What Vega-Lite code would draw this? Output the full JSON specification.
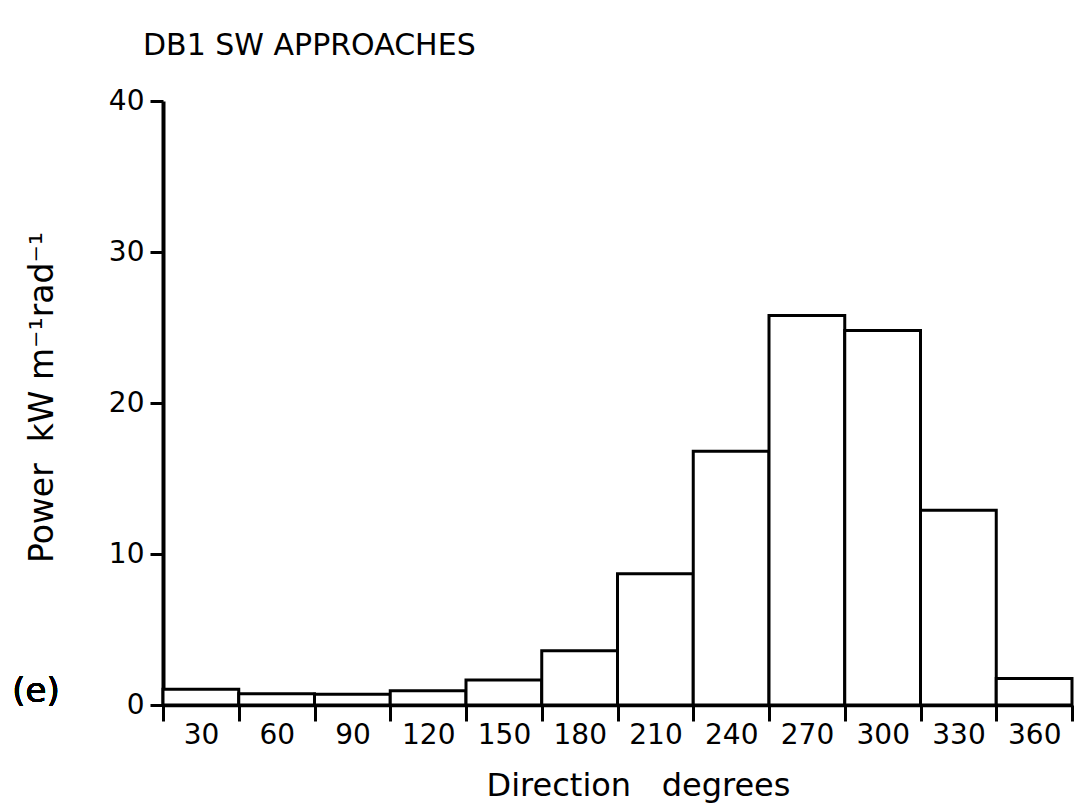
{
  "$schema": "https://vega.github.io/schema/vega-lite/v6.json",
  "width": 909,
  "height": 604,
  "autosize": {"type": "none"},
  "padding": {"left": 163, "top": 101, "right": 7, "bottom": 99},
  "background": "white",
  "config": {"view": {"stroke": null}, "font": "DejaVu Sans"},
  "title": {"text": "DB1 SW APPROACHES", "anchor": "start", "frame": "group", "dx": -20, "offset": 26, "fontSize": 30, "fontWeight": "normal", "color": "black", "font": "DejaVu Sans"},
  "data": {"values": [
    {"start": 0, "end": 30, "power": 1.05},
    {"start": 30, "end": 60, "power": 0.75},
    {"start": 60, "end": 90, "power": 0.72},
    {"start": 90, "end": 120, "power": 0.95},
    {"start": 120, "end": 150, "power": 1.65},
    {"start": 150, "end": 180, "power": 3.6},
    {"start": 180, "end": 210, "power": 8.7},
    {"start": 210, "end": 240, "power": 16.8},
    {"start": 240, "end": 270, "power": 25.8},
    {"start": 270, "end": 300, "power": 24.8},
    {"start": 300, "end": 330, "power": 12.9},
    {"start": 330, "end": 360, "power": 1.75}
  ]},
  "layer": [
    {
      "mark": {"type": "rect", "fill": "white", "stroke": "black", "strokeWidth": 3},
      "encoding": {
        "x": {"field": "start", "type": "quantitative",
          "scale": {"domain": [0, 360], "nice": false, "zero": false},
          "axis": {"values": [0, 30, 60, 90, 120, 150, 180, 210, 240, 270, 300, 330, 360],
            "labelExpr": "datum.value >= 360 ? '' : '' + (datum.value + 30)",
            "labelOffset": 38, "labelFontSize": 28, "labelColor": "black", "labelPadding": 0,
            "labelFlush": false, "labelOverlap": false, "labelBound": false,
            "tickSize": 16, "tickWidth": 3, "tickColor": "black",
            "domainWidth": 3.5, "domainColor": "black", "grid": false,
            "title": "Direction\u00a0\u00a0\u00a0degrees", "titleFontSize": 32, "titleFontWeight": "normal", "titleColor": "black",
            "titleX": 475, "titleY": 90, "titleBaseline": "alphabetic", "titleAlign": "center"}},
        "x2": {"field": "end"},
        "y": {"field": "power", "type": "quantitative",
          "scale": {"domain": [0, 40], "nice": false},
          "axis": {"values": [0, 10, 20, 30, 40], "labelFontSize": 28, "labelColor": "black", "labelPadding": 6,
            "tickSize": 13, "tickWidth": 3, "tickColor": "black",
            "domainWidth": 4, "domainColor": "black", "grid": false,
            "title": "Power\u00a0\u00a0kW m\u207b\u00b9rad\u207b\u00b9", "titleFontSize": 33, "titleFontWeight": "normal", "titleColor": "black",
            "titleX": -111, "titleY": 296, "titleAngle": -90, "titleAlign": "center", "titleBaseline": "alphabetic"}}
      }
    },
    {
      "mark": {"type": "text", "text": "(e)", "fontSize": 34, "color": "black", "align": "center", "baseline": "middle", "dx": -127, "font": "DejaVu Sans"},
      "encoding": {"x": {"datum": 0}, "y": {"datum": 0.85}}
    }
  ]
}
